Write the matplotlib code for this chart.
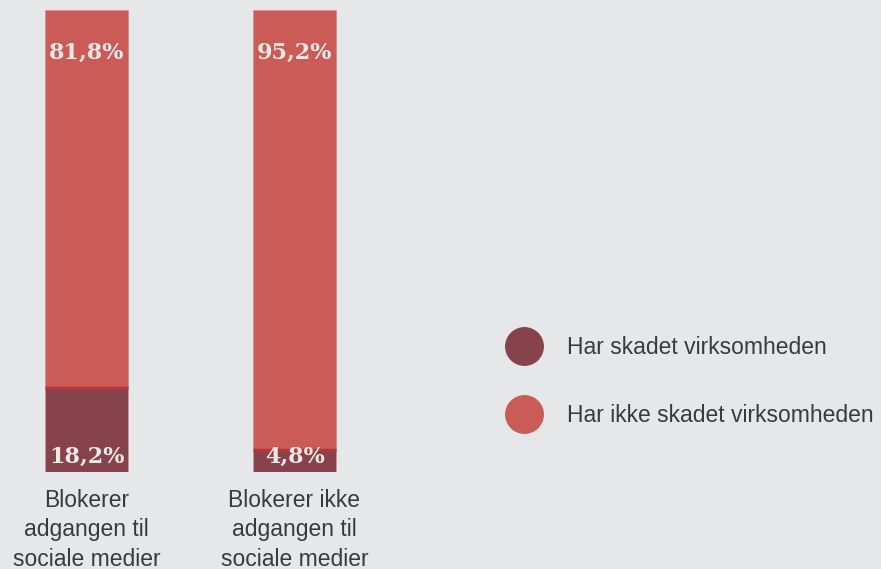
import numpy as np
import matplotlib.pyplot as plt
from matplotlib.lines import Line2D

categories = ["Blokerer\nadgangen til\nsociale medier", "Blokerer ikke\nadgangen til\nsociale medier"]
harmed = [18.2, 4.8]
not_harmed = [81.8, 95.2]
harmed_labels = ["18,2%", "4,8%"]
not_harmed_labels = ["81,8%", "95,2%"]
legend_labels = ["Har skadet virksomheden", "Har ikke skadet virksomheden"]

bg = "#e6e7e9"
dark = "#87434b"
light = "#cb5b56"
seam = "#b5353a"
value_color = "#ece8e6"
text_color = "#3a3a3a"

fig = plt.figure(figsize=(8.81, 5.69), dpi=100, facecolor=bg)
ax = fig.add_axes([0, 97 / 569, 1, 462 / 569])
ax.set_facecolor(bg)

x = np.arange(len(categories))
width = 0.4
ax.bar(x, harmed, width, color=dark, edgecolor="#c79a9c", linewidth=0.6)
ax.bar(x, not_harmed, width, bottom=harmed, color=light, edgecolor="#dc8f8c", linewidth=0.6)
ax.hlines(harmed, x - width / 2, x + width / 2, color=seam, lw=2.5)

for xi, lab in zip(x, not_harmed_labels):
    ax.text(xi, 90.8, lab, ha="center", va="center", color=value_color,
            fontsize=16, fontweight="bold", family="DejaVu Serif")
for xi, lab in zip(x, harmed_labels):
    ax.text(xi, 3.2, lab, ha="center", va="center", color=value_color,
            fontsize=16, fontweight="bold", family="DejaVu Serif")

ax.set_xlim(-86.5 / 208, (881 - 86.5) / 208)
ax.set_ylim(0, 100)
ax.set_xticks(x)
ax.set_xticklabels(categories, fontsize=16.5, color=text_color, linespacing=1.37,
                   family="Liberation Sans")
ax.tick_params(axis="x", length=0, pad=12)
ax.set_yticks([])
for s in ax.spines.values():
    s.set_visible(False)

handles = [Line2D([], [], ls="none", marker="o", markersize=27, color=c) for c in (dark, light)]
fig.legend(handles, legend_labels, loc="center left", bbox_to_anchor=(486.5 / 881, 1 - 381.5 / 569),
           frameon=False, prop={"family": "Liberation Sans", "size": 16.5},
           labelcolor=text_color, labelspacing=1.95, handletextpad=1.12, handlelength=1.5)

fig.savefig("out.png", dpi=100, facecolor=bg)
